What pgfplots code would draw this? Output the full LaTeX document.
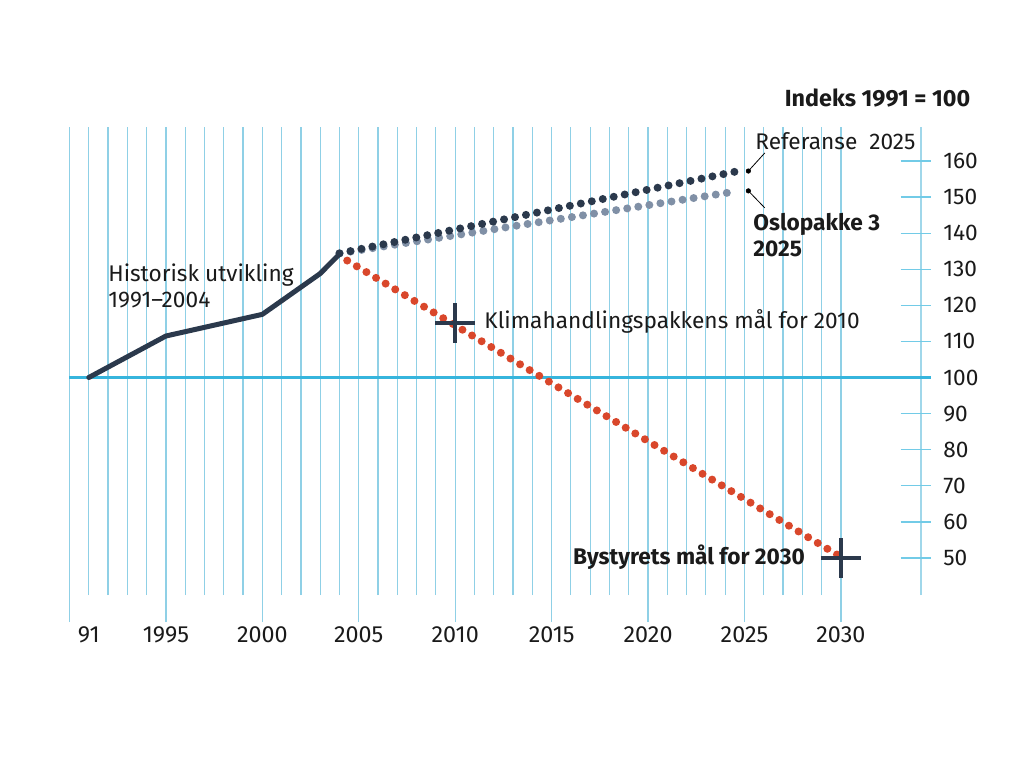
\documentclass[border=0pt]{standalone}
\usepackage{pgfplots}
\pgfplotsset{compat=1.18}
\usepackage{fontspec}
\setmainfont{Fira Sans}
\definecolor{gridblue}{HTML}{8FD0E6}
\definecolor{linecyan}{HTML}{36B5DD}
\definecolor{navy}{HTML}{2B394C}
\definecolor{greyblue}{HTML}{8090A6}
\definecolor{redor}{HTML}{D9472B}
\definecolor{txt}{HTML}{1A1A1A}
\begin{document}
\begin{tikzpicture}[font=\fontsize{17}{20}\selectfont, text=txt]
\path[use as bounding box] (-52.125pt,-129.75pt) rectangle (715.875pt,446.25pt);
\begin{axis}[
  at={(0,0)}, anchor=south west,
  scale only axis, width=638.6pt, height=351pt,
  xmin=1990, xmax=2034.15, ymin=39.75, ymax=169.4,
  clip=false,
  axis line style={draw=none},
  xtick={1990,1995,...,2030},
  xticklabels={{},1995,2000,2005,2010,2015,2020,2025,2030},
  minor xtick={1990,...,2030},
  xmajorgrids, xminorgrids,
  major grid style={gridblue, line width=0.9pt},
  minor grid style={gridblue, line width=0.9pt},
  xtick pos=bottom,
  tick align=outside,
  major tick length=20.25pt,
  minor tick length=0pt,
  xtick style={gridblue, line width=0.9pt},
  extra x ticks={1991},
  extra x tick labels={91},
  extra x tick style={grid=none, major tick length=0pt, xticklabel style={yshift=-20.25pt}},
  xticklabel style={yshift=0pt, font=\fontsize{17.5}{20}\selectfont},
  ytick={50,60,...,160},
  yticklabel pos=right,
  ytick style={draw=none},
  yticklabel style={anchor=west, xshift=-7pt},
  /pgf/number format/assume math mode=true,
  /pgf/number format/1000 sep={},
]
% right axis line, ticks and 100 line
\draw[gridblue!85!white, line width=1.5pt] (axis cs:2034.15,39.75) -- (axis cs:2034.15,169.4);
\pgfplotsinvokeforeach{50,60,...,160}{
  \draw[linecyan!70!white, line width=0.9pt] (axis cs:2033.1,#1) -- (axis cs:2034.67,#1);
}
\draw[linecyan, line width=1.6pt] (axis cs:1990,100) -- (axis cs:2034.67,100);

% Oslopakke 3
\addplot[greyblue, line width=6pt, line cap=round, dash pattern=on 0pt off 8.4pt]
  coordinates {(2004,134.4) (2024.5,151.5)};
% Referanse
\addplot[navy, line width=6pt, line cap=round, dash pattern=on 0pt off 8.4pt]
  coordinates {(2004,134.4) (2024.5,157.0)};
% Klimamål path
\addplot[redor, line width=6pt, line cap=round, dash pattern=on 0pt off 8.4pt]
  coordinates {(2004.4,132.4) (2030,50.3)};
% Historical
\addplot[navy, line width=3.75pt, line join=round, line cap=round]
  coordinates {(1991,100) (1995,111.5) (2000,117.5) (2003,128.8) (2004,134.2)};
% end dots 2025
\addplot[only marks, mark=*, mark size=1.7pt, black] coordinates {(2025.2,157.2) (2025.2,151.7)};
\draw[black, line width=0.6pt] (axis cs:2025.2,157.2) -- (axis cs:2026.05,162.2);
\draw[black, line width=0.6pt] (axis cs:2025.2,151.7) -- (axis cs:2026.05,147.0);
% targets
\addplot[only marks, mark=+, mark size=15pt, navy, mark options={line width=3.4pt}]
  coordinates {(2010,115.1) (2030,50)};

% labels
\node[anchor=east, font=\fontsize{17.5}{20}\selectfont\bfseries] at (axis cs:2036.95,177.5) {Indeks 1991 = 100};
\node[anchor=west, inner sep=0pt] at (axis cs:2025.55,165.5) {Referanse\ \ 2025};
\node[anchor=west, inner sep=0pt, align=left, font=\fontsize{17}{19.5}\selectfont\bfseries] at (axis cs:2025.45,139.5) {Oslopakke 3\\2025};
\node[anchor=west, inner sep=0pt, align=left] at (axis cs:1992.0,125.4) {Historisk utvikling\\1991–2004};
\node[anchor=west, inner sep=0pt] at (axis cs:2011.5,115.4) {Klimahandlingspakkens mål for 2010};
\node[anchor=east, inner sep=0pt, font=\fontsize{17}{20}\selectfont\bfseries] at (axis cs:2028.14,50.3) {Bystyrets mål for 2030};
\end{axis}
\end{tikzpicture}
\end{document}
